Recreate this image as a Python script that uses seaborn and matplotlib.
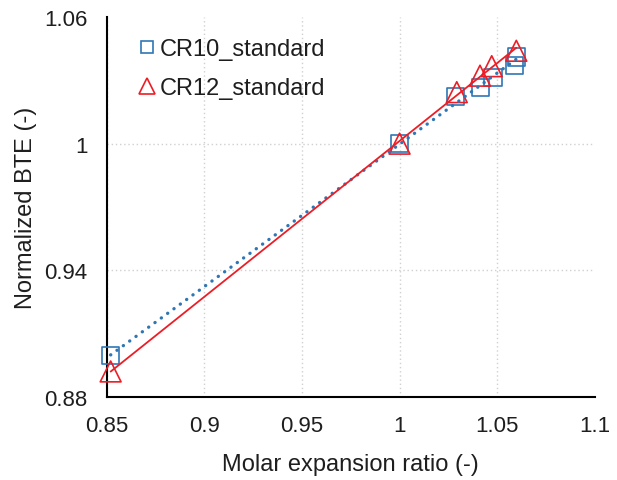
import numpy as np
import pandas as pd
import matplotlib
matplotlib.use("Agg")
import matplotlib.pyplot as plt
import seaborn as sns
from matplotlib.lines import Line2D

# Data
cr10_x = [0.852, 1.000, 1.0285, 1.0415, 1.0478, 1.0588, 1.0598]
cr10_y = [0.8995, 1.000, 1.0222, 1.0267, 1.0313, 1.0370, 1.0410]
cr12_x = [0.852, 1.000, 1.0293, 1.0412, 1.0472, 1.0598]
cr12_y = [0.8921, 1.000, 1.0244, 1.0322, 1.0367, 1.0440]

series_names = ["CR10_standard", "CR12_standard"]
x_ticks = [0.85, 0.9, 0.95, 1.0, 1.05, 1.1]
x_tick_labels = ["0.85", "0.9", "0.95", "1", "1.05", "1.1"]
y_ticks = [0.88, 0.94, 1.0, 1.06]
y_tick_labels = ["0.88", "0.94", "1", "1.06"]

BLUE = "#2f77b4"
RED = "#ee1d25"
TXT = "#1e1e1e"

sns.set_style("white")
plt.rcParams["font.family"] = ["Liberation Sans", "DejaVu Sans"]

fig = plt.figure(figsize=(6.17, 4.81), dpi=100)
ax = fig.add_axes([0.173, 0.1726, 0.791, 0.79])

df10 = pd.DataFrame({"x": cr10_x, "y": cr10_y})
df12 = pd.DataFrame({"x": cr12_x, "y": cr12_y})

# markers
sns.scatterplot(data=df10, x="x", y="y", marker="s", s=12.5**2,
                facecolors="none", edgecolor=BLUE, linewidth=1.2, ax=ax,
                zorder=3, clip_on=False)
sns.scatterplot(data=df12, x="x", y="y", marker="^", s=15**2,
                facecolors="none", edgecolor=RED, linewidth=1.2, ax=ax,
                zorder=4, clip_on=False)

# linear trend lines
sns.regplot(data=df10, x="x", y="y", scatter=False, ci=None, truncate=True, ax=ax,
            line_kws=dict(color=BLUE, lw=2.4, ls=(0, (0.05, 2.3)),
                          dash_capstyle="round", zorder=5))
sns.regplot(data=df12, x="x", y="y", scatter=False, ci=None, truncate=True, ax=ax,
            line_kws=dict(color=RED, lw=1.3, zorder=6))

ax.set_xlim(0.85, 1.1)
ax.set_ylim(0.88, 1.06)
ax.set_xticks(x_ticks)
ax.set_xticklabels(x_tick_labels)
ax.set_yticks(y_ticks)
ax.set_yticklabels(y_tick_labels)

ax.grid(True, color="#d0d0d0", ls=(0, (1, 2)), lw=1.0)
ax.set_axisbelow(True)
for t in ax.xaxis.get_major_ticks()[-1:]:
    t.gridline.set_visible(False)
for t in ax.yaxis.get_major_ticks()[-1:]:
    t.gridline.set_visible(False)

for s in ["top", "right"]:
    ax.spines[s].set_visible(False)
for s in ["left", "bottom"]:
    ax.spines[s].set_color("black")
    ax.spines[s].set_linewidth(1.5)

ax.tick_params(axis="both", direction="out", length=7, width=1.2, color="black",
               labelsize=16, labelcolor=TXT)
ax.tick_params(axis="y", pad=7)
ax.tick_params(axis="x", pad=6)

ax.set_xlabel("Molar expansion ratio (-)", fontsize=17, color=TXT, labelpad=12)
ax.set_ylabel("Normalized BTE (-)", fontsize=17, color=TXT, labelpad=5)

handles = [
    Line2D([], [], ls="none", marker="s", markersize=9, markerfacecolor="none",
           markeredgecolor=BLUE, markeredgewidth=1.2),
    Line2D([], [], ls="none", marker="^", markersize=11, markerfacecolor="none",
           markeredgecolor=RED, markeredgewidth=1.2),
]
ax.legend(handles, series_names, loc="upper left", bbox_to_anchor=(0.02, 1.0),
          frameon=False, fontsize=17, handlelength=0.8, handletextpad=0.15,
          labelspacing=0.72, labelcolor=TXT)

fig.savefig("out.png", dpi=100)
